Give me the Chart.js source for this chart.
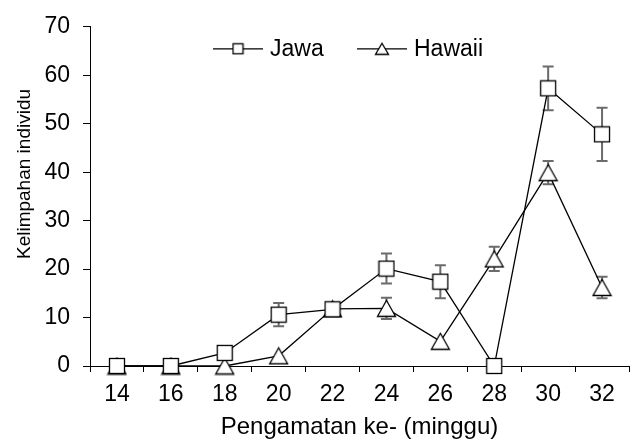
<!DOCTYPE html>
<html>
<head>
<meta charset="utf-8">
<script src="https://cdn.jsdelivr.net/npm/chart.js@4/dist/chart.umd.min.js"></script>
<style>
    html, body { margin: 0; padding: 0; background: #fff; }
    #wrap { width: 638px; height: 444px; }
</style>
</head>
<body>
<div id="wrap"><canvas id="myChart" width="638" height="444"></canvas></div>
<script>
// Observation week (x axis categories)
const weeks = ['14', '16', '18', '20', '22', '24', '26', '28', '30', '32'];

// Jawa population, mean and error
const jawaValues = [0, 0, 2.7, 10.6, 11.7, 20.1, 17.4, 0, 57.3, 47.8];
const jawaErrors = [0, 0, 0, 2.4, 1.0, 3.1, 3.4, 0, 4.5, 5.5];

// Hawaii population, mean and error
const hawaiiValues = [0, 0, 0, 2.1, 11.8, 11.9, 5.1, 22.1, 39.9, 16.2];
const hawaiiErrors = [0, 0, 0, 0, 0.8, 2.2, 0, 2.5, 2.4, 2.2];

const FONT = '"Liberation Sans", Arial, Helvetica, sans-serif';

// Build marker images so the triangle is centred on its bounding box
function makeSquare(side) {
    const c = document.createElement('canvas');
    c.width = side + 3;
    c.height = side + 3;
    const g = c.getContext('2d');
    g.fillStyle = '#fff';
    g.strokeStyle = '#000';
    g.lineWidth = 1.3;
    g.fillRect(1.5, 1.5, side, side);
    g.strokeRect(1.5, 1.5, side, side);
    return c;
}

function makeTriangle(w, h) {
    const c = document.createElement('canvas');
    c.width = w + 3;
    c.height = h + 3;
    const g = c.getContext('2d');
    g.fillStyle = '#fff';
    g.strokeStyle = '#000';
    g.lineWidth = 1.3;
    g.beginPath();
    g.moveTo(1.5 + w / 2, 1.5);
    g.lineTo(1.5 + w, 1.5 + h);
    g.lineTo(1.5, 1.5 + h);
    g.closePath();
    g.fill();
    g.stroke();
    return c;
}

const squareMarker = makeSquare(15);
const triangleMarker = makeTriangle(18, 16);
const squareLegend = makeSquare(10);
const triangleLegend = makeTriangle(13, 11);

// Error bars, drawn under the markers
const errorBarPlugin = {
    id: 'errorBars',
    beforeDatasetsDraw(chart) {
        const ctx = chart.ctx;
        const yScale = chart.scales.y;
        ctx.save();
        ctx.strokeStyle = '#6b6b6b';
        ctx.lineWidth = 2;
        chart.data.datasets.forEach((ds, di) => {
            const meta = chart.getDatasetMeta(di);
            ds.errors.forEach((err, i) => {
                if (!err) return;
                const x = meta.data[i].x;
                const top = yScale.getPixelForValue(ds.data[i] + err);
                const bottom = yScale.getPixelForValue(ds.data[i] - err);
                ctx.beginPath();
                ctx.moveTo(x, top);
                ctx.lineTo(x, bottom);
                ctx.moveTo(x - 5.5, top);
                ctx.lineTo(x + 5.5, top);
                ctx.moveTo(x - 5.5, bottom);
                ctx.lineTo(x + 5.5, bottom);
                ctx.stroke();
            });
        });
        ctx.restore();
    }
};

// Legend inside the plot and rotated y title
const labelsPlugin = {
    id: 'labels',
    afterDraw(chart) {
        const ctx = chart.ctx;
        const area = chart.chartArea;
        ctx.save();
        ctx.fillStyle = '#000';
        ctx.strokeStyle = '#000';
        ctx.lineWidth = 1.3;
        ctx.font = '23px ' + FONT;
        ctx.textBaseline = 'middle';
        ctx.textAlign = 'left';

        const ly = area.top + 22;
        const items = [
            { x: area.left + 123, text: 'Jawa', img: squareLegend },
            { x: area.left + 267, text: 'Hawaii', img: triangleLegend }
        ];
        items.forEach(item => {
            ctx.beginPath();
            ctx.moveTo(item.x, ly);
            ctx.lineTo(item.x + 50, ly);
            ctx.stroke();
            ctx.drawImage(item.img, item.x + 25 - item.img.width / 2, ly - item.img.height / 2);
            ctx.fillText(item.text, item.x + 57, ly + 1);
        });

        ctx.font = '19px ' + FONT;
        ctx.textAlign = 'center';
        ctx.translate(25, 174);
        ctx.rotate(-Math.PI / 2);
        ctx.fillText('Kelimpahan individu', 0, 0);
        ctx.restore();
    }
};

const ctx = document.getElementById('myChart').getContext('2d');

new Chart(ctx, {
    type: 'line',
    data: {
        labels: weeks,
        datasets: [
            {
                label: 'Jawa',
                data: jawaValues,
                errors: jawaErrors,
                borderColor: '#000',
                borderWidth: 1.3,
                pointStyle: squareMarker,
                tension: 0,
                clip: false
            },
            {
                label: 'Hawaii',
                data: hawaiiValues,
                errors: hawaiiErrors,
                borderColor: '#000',
                borderWidth: 1.3,
                pointStyle: triangleMarker,
                tension: 0,
                clip: false
            }
        ]
    },
    options: {
        responsive: false,
        animation: false,
        layout: {
            padding: { top: 21, right: 9, left: 0, bottom: 0 }
        },
        plugins: {
            legend: { display: false },
            tooltip: { enabled: false }
        },
        scales: {
            x: {
                offset: true,
                grid: {
                    offset: true,
                    drawOnChartArea: false,
                    drawTicks: true,
                    tickLength: 6,
                    color: '#000'
                },
                border: { color: '#000', width: 1 },
                ticks: {
                    color: '#000',
                    padding: 9,
                    maxRotation: 0,
                    font: { family: FONT, size: 23 }
                },
                title: {
                    display: true,
                    text: 'Pengamatan ke- (minggu)',
                    color: '#000',
                    padding: { top: 0, bottom: 2 },
                    font: { family: FONT, size: 24 }
                },
                afterFit(scale) {
                    scale.height = 78;
                }
            },
            y: {
                min: 0,
                max: 70,
                grid: {
                    drawOnChartArea: false,
                    drawTicks: true,
                    tickLength: 7,
                    color: '#000'
                },
                border: { color: '#000', width: 1 },
                ticks: {
                    stepSize: 10,
                    color: '#000',
                    padding: 13,
                    font: { family: FONT, size: 23 }
                },
                afterFit(scale) {
                    scale.width = 90;
                }
            }
        }
    },
    plugins: [errorBarPlugin, labelsPlugin]
});
</script>
</body>
</html>
